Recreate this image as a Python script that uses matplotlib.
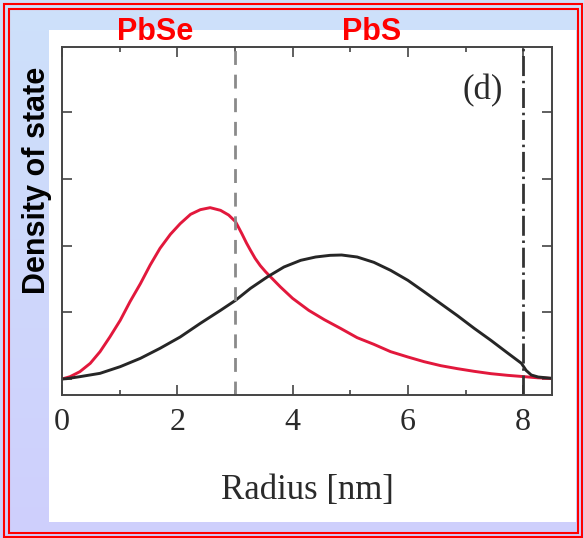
import numpy as np
import matplotlib
matplotlib.use('Agg')
import matplotlib.pyplot as plt
from matplotlib.patches import Rectangle
from matplotlib.ticker import MultipleLocator

# radius [nm] and density of state for the two materials
r_pbse = [0, 0.14, 0.31, 0.49, 0.66, 0.83, 1.01, 1.18, 1.36, 1.53, 1.70, 1.88, 2.05,
          2.23, 2.40, 2.57, 2.75, 2.89, 3.01, 3.12, 3.2, 3.27, 3.35, 3.44, 3.53, 3.62,
          3.79, 4.0, 4.28, 4.55, 4.83, 5.12, 5.41, 5.70, 6.0, 6.28, 6.57, 6.86, 7.15,
          7.44, 7.73, 8.02, 8.25, 8.5]
dos_pbse = [0, 0.035, 0.11, 0.235, 0.41, 0.63, 0.88, 1.16, 1.43, 1.71, 1.96, 2.17, 2.33,
            2.47, 2.54, 2.57, 2.53, 2.46, 2.36, 2.18, 2.04, 1.93, 1.81, 1.70, 1.61, 1.53,
            1.38, 1.21, 1.03, 0.89, 0.76, 0.62, 0.52, 0.41, 0.33, 0.26, 0.2, 0.155, 0.115,
            0.08, 0.055, 0.035, 0.018, 0.008]

r_pbs = [0, 0.08, 0.31, 0.66, 1.01, 1.36, 1.70, 2.05, 2.40, 2.75, 3.01, 3.27, 3.56, 3.85,
         4.14, 4.4, 4.65, 4.85, 5.12, 5.41, 5.70, 6.0, 6.28, 6.57, 6.86, 7.15, 7.44, 7.73,
         7.97, 8.05, 8.14, 8.26, 8.5]
dos_pbs = [0, 0.005, 0.035, 0.085, 0.185, 0.31, 0.46, 0.63, 0.835, 1.03, 1.18, 1.36, 1.53,
           1.68, 1.78, 1.83, 1.855, 1.86, 1.83, 1.75, 1.63, 1.48, 1.31, 1.13, 0.95, 0.76,
           0.58, 0.39, 0.235, 0.13, 0.06, 0.03, 0.01]

x_ticks = [0, 2, 4, 6, 8]
boundary_pbse = 3
boundary_pbs = 8

W, H = 584, 538
fig = plt.figure(figsize=(W / 100, H / 100), dpi=100)


def box(x0, y0, x1, y1, **kw):
    # pixel box measured from the top-left corner
    return Rectangle((x0 / W, 1 - y1 / H), (x1 - x0) / W, (y1 - y0) / H,
                     transform=fig.transFigure, **kw)


# slide background: soft blue to lavender
bg = fig.add_axes([0, 0, 1, 1], zorder=-10)
top = np.array([205, 225, 250]) / 255
bot = np.array([207, 207, 253]) / 255
t = np.linspace(0, 1, 256)[:, None, None]
bg.imshow((1 - t) * top + t * bot, aspect='auto', extent=[0, 1, 0, 1])
bg.set_xlim(0, 1)
bg.set_ylim(0, 1)
bg.axis('off')

fig.patches.append(box(49, 30, 576, 522, facecolor='white', edgecolor='none', zorder=-5))
fig.patches.append(box(4, 4, 582, 536.5, facecolor='none', edgecolor='red', lw=1.5, zorder=5))
fig.patches.append(box(8.5, 8.5, 577.5, 532.5, facecolor='none', edgecolor='red', lw=1.5, zorder=5))

ax = fig.add_axes([62 / W, 1 - 395 / H, 490 / W, 348 / H])
ax.patch.set_alpha(0)

ax.plot(r_pbse, dos_pbse, color='#e2183c', lw=2.1, solid_joinstyle='round')
ax.plot(r_pbs, dos_pbs, color='#262626', lw=2.1, solid_joinstyle='round')
ax.axvline(boundary_pbse, color='#8a8a8a', lw=2, ls=(0, (5, 3.5)))
ax.axvline(boundary_pbs, color='#333333', lw=2, ls=(0, (7.2, 1.7, 0.9, 1.7)))

ax.set_xlim(0, 8.5)
ax.set_ylim(-0.24, 4.98)
ax.set_xticks(x_ticks)
ax.xaxis.set_minor_locator(MultipleLocator(1))
ax.set_yticks([0, 1, 2, 3, 4])
ax.set_yticklabels([])
ax.tick_params(which='both', direction='in', top=True, right=True, color='#444444', width=1.2)
ax.tick_params(which='major', length=7)
ax.tick_params(which='minor', length=3.5)
ax.tick_params(axis='x', pad=9, labelsize=23, labelcolor='#2a2a2a')
for lab in ax.get_xticklabels():
    lab.set_family('Liberation Serif')
for s in ax.spines.values():
    s.set_color('#444444')
    s.set_linewidth(1.4)

ax.set_xlabel('Radius [nm]', family='Liberation Serif', fontsize=25, color='#2a2a2a', labelpad=27)
ax.text(7.3, 4.33, '(d)', family='Liberation Serif', fontsize=25, color='#2a2a2a',
        ha='center', va='center')

fig.text(155 / W, 1 - 40 / H, 'PbSe', family='Liberation Sans', weight='bold',
         fontsize=22, color='red', ha='center', va='baseline')
fig.text(372 / W, 1 - 40 / H, 'PbS', family='Liberation Sans', weight='bold',
         fontsize=22, color='red', ha='center', va='baseline')
fig.text(37 / W, 1 - 180 / H, 'Density of state', family='Liberation Sans', weight='bold',
         fontsize=22, color='black', rotation=90, ha='center', va='center')

fig.savefig('out.png', dpi=100)
